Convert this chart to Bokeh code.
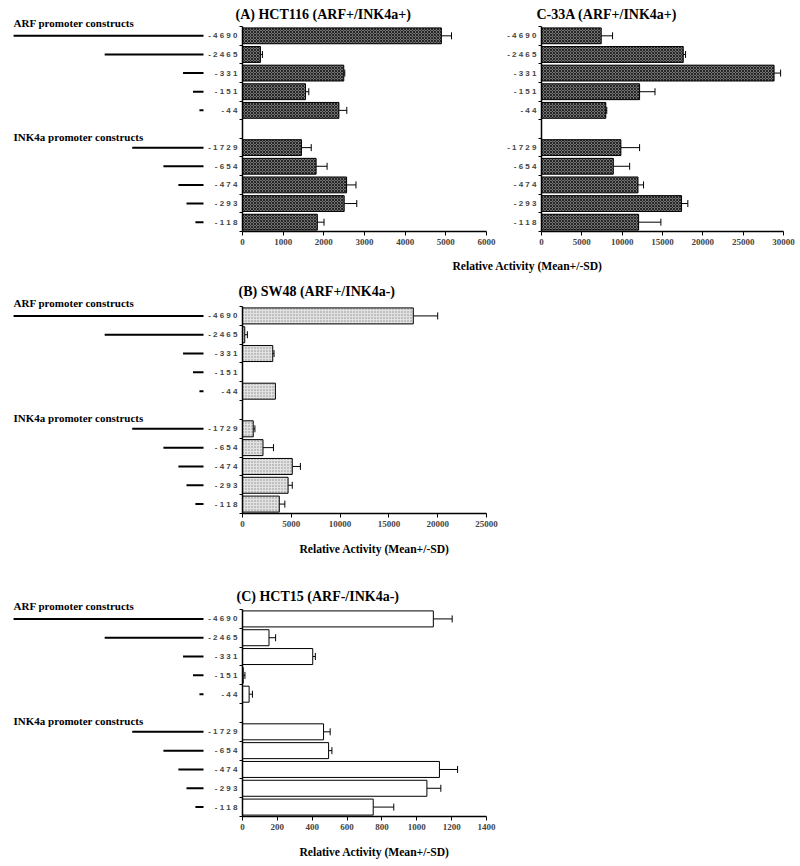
from bokeh.plotting import figure
from bokeh.models import Range1d, FixedTicker, ColumnDataSource, Whisker, TeeHead, Label
from bokeh.layouts import column, row
from bokeh.embed import file_html
from bokeh.resources import INLINE

# ---------------- data ----------------
arf_constructs = ["-4690", "-2465", "-331", "-151", "-44"]
ink4a_constructs = ["-1729", "-654", "-474", "-293", "-118"]
constructs = arf_constructs + ink4a_constructs
groups = ["ARF promoter constructs", "INK4a promoter constructs"]
# schematic length of each drawn construct line (bp-equivalent)
drawn_len = [4690, 2440, 505, 260, 100, 1760, 990, 620, 420, 200]

hct116_mean = [4890, 440, 2490, 1550, 2370, 1450, 1810, 2560, 2500, 1840]
hct116_sd = [250, 50, 25, 80, 195, 240, 270, 230, 310, 165]
c33a_mean = [7400, 17570, 28830, 12160, 7970, 9840, 8900, 11960, 17360, 12040]
c33a_sd = [1410, 290, 810, 1910, 120, 2320, 2030, 690, 780, 2760]
sw48_mean = [17500, 230, 3100, 0, 3370, 1100, 2100, 5100, 4670, 3770]
sw48_sd = [2500, 270, 130, 0, 0, 170, 1070, 830, 430, 570]
hct15_mean = [1095, 152, 403, 4, 38, 465, 494, 1130, 1058, 750]
hct15_sd = [108, 38, 15, 10, 19, 38, 19, 104, 80, 118]

ticks_hct116 = [0, 1000, 2000, 3000, 4000, 5000, 6000]
ticks_c33a = [0, 5000, 10000, 15000, 20000, 25000, 30000]
ticks_sw48 = [0, 5000, 10000, 15000, 20000, 25000]
ticks_hct15 = [0, 200, 400, 600, 800, 1000, 1200, 1400]

title_a = "(A) HCT116 (ARF+/INK4a+)"
title_a2 = "C-33A (ARF+/INK4a+)"
title_b = "(B) SW48 (ARF+/INK4a-)"
title_c = "(C) HCT15 (ARF-/INK4a-)"
xlabel = "Relative Activity (Mean+/-SD)"

# category slots: ARF group, one empty slot, INK4a group
slots = list(range(len(arf_constructs))) + [len(arf_constructs) + 1 + i for i in range(len(ink4a_constructs))]
NSLOT = slots[-1] + 1

SERIF = "Liberation Serif"
SANS = "Liberation Sans"
PPX = 0.0405      # px per bp of the construct schematic
LEFT_W = 205      # width of the schematic panel
LINE_END = 203    # x (px) where construct lines end
BL = 33           # left border of bar charts


def set_title(p, text, size, offset, standoff):
    t = p.title
    t.text = text
    t.align = "left"
    t.offset = offset
    t.vertical_align = "bottom"
    t.text_font = SERIF
    t.text_font_style = "bold"
    t.text_font_size = size
    t.text_color = "black"
    try:
        t.standoff = standoff
    except Exception:
        pass


def left_fig(row_top, frame_top, frame_bot, bottom, head_standoff):
    p = figure(width=LEFT_W, height=bottom - row_top,
               x_range=Range1d(-LINE_END / PPX, (LEFT_W - LINE_END) / PPX),
               y_range=Range1d(NSLOT - 0.5, -0.5),
               output_backend="svg", toolbar_location=None,
               x_axis_type=None, y_axis_type=None,
               min_border_left=0, min_border_right=0,
               min_border_top=frame_top - row_top, min_border_bottom=bottom - frame_bot)
    p.outline_line_color = None
    src = ColumnDataSource(dict(x0=[-d for d in drawn_len], x1=[0] * len(drawn_len), y=slots))
    p.segment(x0="x0", y0="y", x1="x1", y1="y", source=src, line_width=2, line_color="black")
    # first group heading sits just above the frame -> use the figure title
    set_title(p, groups[0], "11px", LINE_END - drawn_len[0] * PPX, head_standoff)
    p.add_layout(Label(x=-drawn_len[0], y=5.45, text=groups[1], text_align="left", text_baseline="middle",
                       text_font=SERIF, text_font_style="bold", text_font_size="11px",
                       text_color="black"))
    return p


def bar_fig(width, row_top, frame_top, frame_bot, bottom, ticks, means, sds, style, border_right,
            title, title_dx, title_standoff):
    p = figure(width=width, height=bottom - row_top,
               x_range=Range1d(ticks[0], ticks[-1]), y_range=Range1d(NSLOT - 0.5, -0.5),
               output_backend="svg", toolbar_location=None,
               min_border_left=BL, min_border_right=border_right,
               min_border_top=frame_top - row_top, min_border_bottom=bottom - frame_bot)
    p.outline_line_color = None
    p.grid.visible = False
    src = ColumnDataSource(dict(y=slots, v=means, hi=[m + s for m, s in zip(means, sds)]))
    p.hbar(y="y", left=0, right="v", height=0.85, source=src,
           line_color="black", line_width=1, **style)
    keep = [i for i, s in enumerate(sds) if s > 0]
    wsrc = ColumnDataSource(dict(y=[slots[i] for i in keep], v=[means[i] for i in keep],
                                 hi=[means[i] + sds[i] for i in keep]))
    p.add_layout(Whisker(base="y", lower="v", upper="hi", dimension="width", source=wsrc,
                         lower_head=None,
                         upper_head=TeeHead(size=7, line_width=1, line_color="black"),
                         line_color="black", line_width=1))
    set_title(p, title, "14px", title_dx, title_standoff)
    xa = p.xaxis[0]
    xa.ticker = FixedTicker(ticks=ticks, minor_ticks=[])
    xa.axis_line_width = 1.5
    xa.major_tick_out = 4
    xa.major_tick_in = 0
    xa.major_label_standoff = 3
    xa.major_label_text_font = SERIF
    xa.major_label_text_font_style = "bold"
    xa.major_label_text_font_size = "9px"
    ya = p.yaxis[0]
    ya.ticker = FixedTicker(ticks=slots, minor_ticks=[s + 0.5 for s in range(-1, NSLOT)])
    ya.major_label_overrides = {s: " ".join(c) for s, c in zip(slots, constructs)}
    ya.axis_line_width = 1.5
    ya.major_tick_out = 0
    ya.major_tick_in = 0
    ya.minor_tick_out = 3
    ya.minor_tick_in = 0
    ya.major_label_standoff = 2
    ya.major_label_text_font = SANS
    ya.major_label_text_font_style = "bold"
    ya.major_label_text_font_size = "8px"
    return p


def strip(top, bottom, x, y):
    p = figure(width=800, height=bottom - top, x_range=Range1d(0, 800), y_range=Range1d(bottom, top),
               output_backend="svg", toolbar_location=None,
               x_axis_type=None, y_axis_type=None, min_border=0)
    p.outline_line_color = None
    p.add_layout(Label(x=x, y=y, text=xlabel, text_align="center", text_baseline="middle",
                       text_font=SERIF, text_font_style="bold", text_font_size="11.6px",
                       text_color="black"))
    return p


dark = dict(fill_color="#737373", hatch_pattern="diagonal_cross", hatch_color="#262626",
            hatch_scale=3, hatch_weight=1)
light = dict(fill_color="#e2e2e2", hatch_pattern="dot", hatch_color="#8a8a8a",
             hatch_scale=3, hatch_weight=1)
white = dict(fill_color="white")

# ---- panel A ----
lA = left_fig(0, 25, 231, 252, -5)
bA = bar_fig(299, 0, 25, 231, 252, ticks_hct116, hct116_mean, hct116_sd, dark, 18, title_a, -7, 9.3)
bA2 = bar_fig(296, 0, 25, 231, 252, ticks_c33a, c33a_mean, c33a_sd, dark, 17, title_a2, -5, 9.3)
s1 = strip(252, 274, 527, 266)
# ---- panel B ----
lB = left_fig(274, 305, 513, 535, -5.5)
bB = bar_fig(299, 274, 305, 513, 535, ticks_sw48, sw48_mean, sw48_sd, light, 18, title_b, -4, 15)
s2 = strip(535, 580, 374, 549)
# ---- panel C ----
lC = left_fig(580, 608, 816, 838, -5.5)
bC = bar_fig(299, 580, 608, 816, 838, ticks_hct15, hct15_mean, hct15_sd, white, 18, title_c, -6, 12)
s3 = strip(838, 864, 374, 852)

layout = column(row(lA, bA, bA2, spacing=0), s1, row(lB, bB, spacing=0), s2,
                row(lC, bC, spacing=0), s3, spacing=0)

open("out.html", "w").write(file_html(layout, INLINE))
